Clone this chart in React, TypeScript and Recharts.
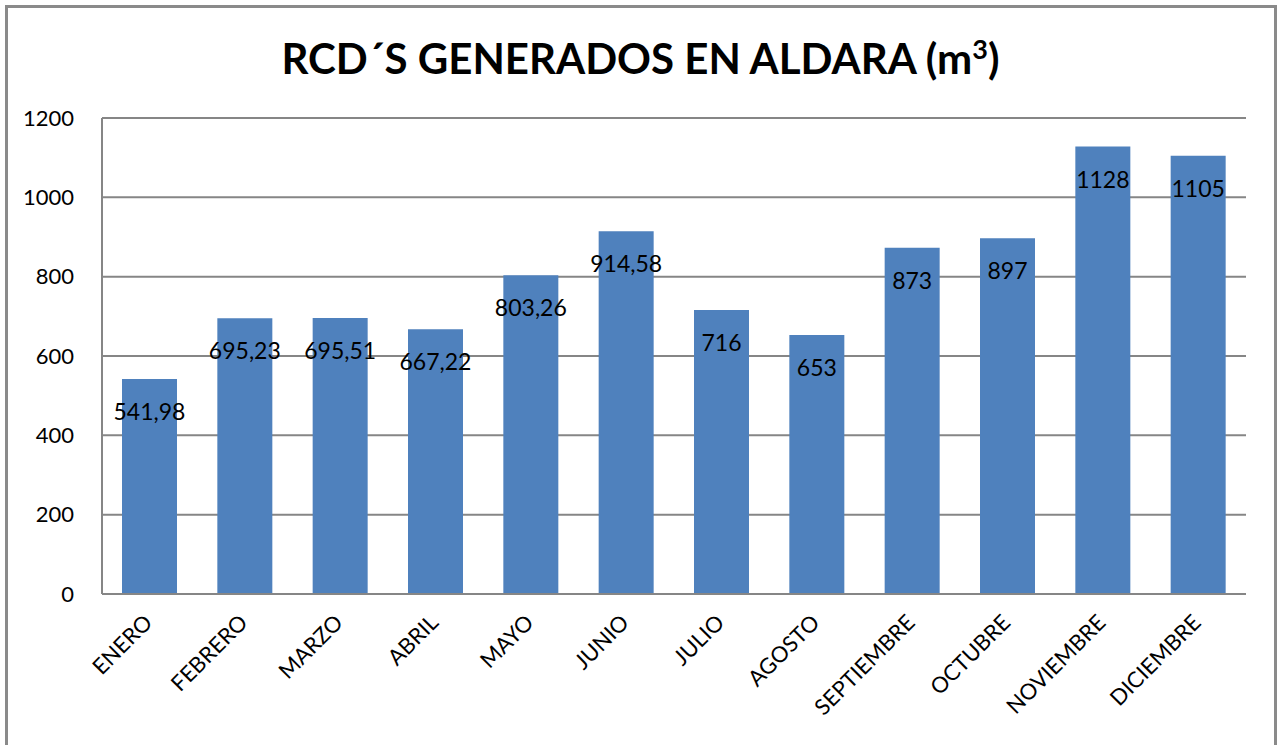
import { BarChart, Bar, XAxis, YAxis, CartesianGrid, LabelList } from 'recharts';

const MONTHS = [
  'ENERO', 'FEBRERO', 'MARZO', 'ABRIL', 'MAYO', 'JUNIO',
  'JULIO', 'AGOSTO', 'SEPTIEMBRE', 'OCTUBRE', 'NOVIEMBRE', 'DICIEMBRE',
];
const VOLUMES = [541.98, 695.23, 695.51, 667.22, 803.26, 914.58, 716, 653, 873, 897, 1128, 1105];
const Y_TICKS = [0, 200, 400, 600, 800, 1000, 1200];

const FONT = 'Lato, "Open Sans", sans-serif';
const GRAY = '#868686';

const data = MONTHS.map((month, i) => ({ month, value: VOLUMES[i] }));

function MonthTick({ x, y, payload }: any) {
  return (
    <text
      x={x + 4}
      y={y + 22}
      transform={`rotate(-45, ${x + 4}, ${y + 22})`}
      textAnchor="end"
      fontSize={22}
      fontFamily={FONT}
      fill="#000"
    >
      {payload.value}
    </text>
  );
}

function ValueLabel({ x, y, width, value }: any) {
  return (
    <text
      x={x + width / 2}
      y={y + 32}
      textAnchor="middle"
      dominantBaseline="central"
      fontSize={23}
      fontFamily={FONT}
      fill="#000"
    >
      {String(value).replace('.', ',')}
    </text>
  );
}

export default function App() {
  return (
    <div style={{ position: 'absolute', left: 0, top: 0, width: 1281, height: 745, background: '#fff', overflow: 'hidden' }}>
      {/* outer chart frame */}
      <div
        style={{
          position: 'absolute', left: 5, top: 5, width: 1272, height: 780,
          border: '3px solid #8a8a8a', boxSizing: 'border-box',
        }}
      />
      <div
        style={{
          position: 'absolute', left: 0, top: 30, width: 1281, textAlign: 'center',
          fontFamily: FONT, fontWeight: 700, fontSize: 42, color: '#000', lineHeight: '56px',
        }}
      >
        RCD´S GENERADOS EN ALDARA (m<sup style={{ fontSize: 27, lineHeight: 0 }}>3</sup>)
      </div>
      <div style={{ position: 'absolute', left: 0, top: 0 }}>
        <BarChart width={1281} height={745} data={data} margin={{ top: 118, right: 35, bottom: 0, left: 0 }}>
          <CartesianGrid vertical={false} stroke={GRAY} strokeWidth={2} />
          <XAxis
            dataKey="month"
            height={151}
            interval={0}
            tickLine={false}
            axisLine={{ stroke: GRAY, strokeWidth: 2 }}
            tick={<MonthTick />}
          />
          <YAxis
            width={102}
            domain={[0, 1200]}
            ticks={Y_TICKS}
            tickLine={false}
            axisLine={{ stroke: GRAY, strokeWidth: 2 }}
            tickMargin={22}
            tick={{ fontSize: 22, fontFamily: FONT, fill: '#000' }}
          />
          <Bar dataKey="value" fill="#4F81BD" barSize={55} isAnimationActive={false}>
            <LabelList dataKey="value" content={<ValueLabel />} />
          </Bar>
        </BarChart>
      </div>
    </div>
  );
}
